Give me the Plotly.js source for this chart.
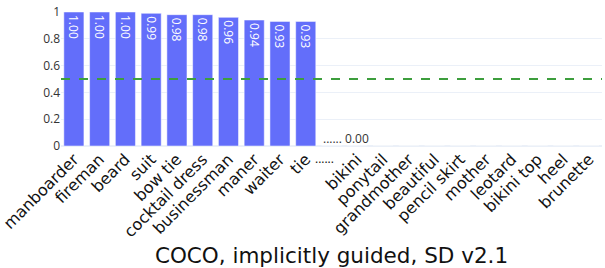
<!DOCTYPE html>
<html>
<head>
<meta charset="utf-8">
<script src="https://cdn.plot.ly/plotly-3.0.1.min.js"></script>
<style>html,body{margin:0;padding:0;background:#fff;}#chart{width:605px;height:268px;}</style>
</head>
<body>
<div id="chart"></div>
<script>
var categories = ["manboarder","fireman","beard","suit","bow tie","cocktail dress","businessman","maner","waiter","tie","gap","bikini","ponytail","grandmother","beautiful","pencil skirt","mother","leotard","bikini top","heel","brunette"];
var tickLabels = ["manboarder","fireman","beard","suit","bow tie","cocktail dress","businessman","maner","waiter","tie","","bikini","ponytail","grandmother","beautiful","pencil skirt","mother","leotard","bikini top","heel","brunette"];
var values = [1.00,1.00,1.00,0.99,0.98,0.98,0.96,0.94,0.93,0.93,0,0,0,0,0,0,0,0,0,0,0];
var barTexts = ["1.00","1.00","1.00","0.99","0.98","0.98","0.96","0.94","0.93","0.93","","","","","","","","","","",""];
var gapLabel = "...... 0.00";
var gapTickLabel = "......";
var thresholdValue = 0.5;
var chartTitle = "COCO, implicitly guided, SD v2.1";

var trace = {
  type: "bar",
  x: categories,
  y: values,
  text: barTexts,
  textposition: "inside",
  insidetextanchor: "end",
  textangle: 90,
  constraintext: "none",
  textfont: {family: "Open Sans, Arial, sans-serif", size: 12, color: "#ffffff"},
  marker: {color: "#636efa", line: {color: "#ffffff", width: 0.5}},
  hoverinfo: "none"
};

var layout = {
  width: 605, height: 268,
  margin: {l: 61, r: 3, t: 12, b: 122},
  paper_bgcolor: "#ffffff",
  plot_bgcolor: "#ffffff",
  showlegend: false,
  bargap: 0.22,
  font: {family: "DejaVu Sans, Verdana, sans-serif", color: "#222222"},
  xaxis: {
    type: "category",
    tickmode: "array",
    tickvals: categories,
    ticktext: tickLabels,
    tickangle: -45,
    tickfont: {family: "DejaVu Sans, Verdana, sans-serif", size: 16, color: "#111111"},
    showgrid: false,
    ticks: "",
    title: {text: chartTitle, font: {family: "DejaVu Sans, Verdana, sans-serif", size: 21.5, color: "#111111"}, standoff: 9}
  },
  yaxis: {
    range: [0, 1],
    tickvals: [0, 0.2, 0.4, 0.6, 0.8, 1],
    ticktext: ["0", "0.2", "0.4", "0.6", "0.8", "1"],
    tickfont: {family: "Open Sans, Arial, sans-serif", size: 12, color: "#333333"},
    gridcolor: "#EBF0F8",
    zerolinecolor: "#EBF0F8",
    zerolinewidth: 2,
    ticks: "",
    ticklabelstandoff: 0
  },
  shapes: [{
    type: "line", xref: "paper", x0: 0, x1: 1, yref: "y", y0: thresholdValue, y1: thresholdValue,
    line: {color: "#3d9e3d", width: 2, dash: "dash"}
  }],
  annotations: [{
    x: categories[10], y: 0, xref: "x", yref: "y",
    text: gapLabel, showarrow: false, xanchor: "left", yanchor: "bottom",
    xshift: -11, yshift: -3,
    font: {family: "Open Sans, Arial, sans-serif", size: 12, color: "#333333"}
  }, {
    x: categories[10], y: 0, xref: "x", yref: "y",
    text: gapTickLabel, showarrow: false, xanchor: "center", yanchor: "top",
    xshift: -7, yshift: -2,
    font: {family: "Open Sans, Arial, sans-serif", size: 12, color: "#111111"}
  }]
};

Plotly.newPlot("chart", [trace], layout, {staticPlot: true, displayModeBar: false});
</script>
</body>
</html>
